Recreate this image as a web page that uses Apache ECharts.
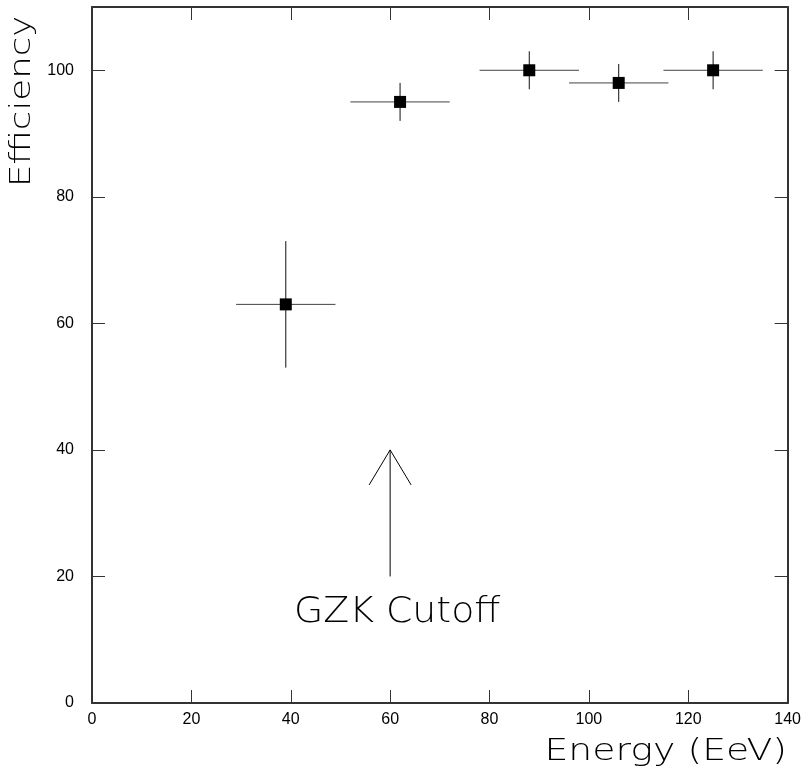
<!DOCTYPE html>
<html>
<head>
<meta charset="utf-8">
<script src="https://cdn.jsdelivr.net/npm/echarts@6/dist/echarts.min.js"></script>
<style>html,body{margin:0;padding:0;background:#fff}#c{width:804px;height:773px}</style>
</head>
<body>
<div id="c"></div>
<script>
// ---- data ----
var energy        = [39, 62, 88, 106, 125];
var energyErr     = [10, 10, 10, 10, 10];
var efficiency    = [63, 95, 100, 98, 100];
var efficiencyErr = [10, 3, 3, 3, 3];
var xTicks = [0, 20, 40, 60, 80, 100, 120, 140];
var yTicks = [0, 20, 40, 60, 80, 100];
var arrowX = 60, arrowFrom = 20, arrowTo = 40;
var arrowLabel = 'GZK Cutoff';
var xTitle = 'Energy (EeV)';
var yTitle = 'Efficiency';

var chart = echarts.init(document.getElementById('c'));
var thinFont = 'DejaVu Sans';
var pts = energy.map(function (e, i) { return [e, efficiency[i], energyErr[i], efficiencyErr[i]]; });

function axisCommon(pos, showLabel, isX) {
  return {
    type: 'value', position: pos,
    min: isX ? xTicks[0] : yTicks[0],
    max: isX ? xTicks[xTicks.length - 1] : 110,
    interval: 20,
    axisLine: { show: true, onZero: false, lineStyle: { color: '#333', width: 2 } },
    axisTick: { show: true, inside: true, length: 13, lineStyle: { color: '#333', width: 1 } },
    splitLine: { show: false },
    axisLabel: {
      show: showLabel, showMaxLabel: isX ? true : false,
      color: '#000', fontSize: 16, fontFamily: 'Liberation Sans, Arial, sans-serif',
      margin: isX ? 9 : 18
    }
  };
}

chart.setOption({
  animation: false,
  backgroundColor: '#fff',
  grid: { left: 92, right: 16, top: 7, bottom: 70, containLabel: false },
  xAxis: [axisCommon('bottom', true, true), axisCommon('top', false, true)],
  yAxis: [axisCommon('left', true, false), axisCommon('right', false, false)],
  graphic: [
    { type: 'text', x: 787, y: 752, scaleX: 1.26,
      style: { text: xTitle, fontFamily: thinFont, fontWeight: 200, fontSize: 30, fill: '#000', align: 'right', verticalAlign: 'middle' } },
    { type: 'text', x: 23, y: 187, rotation: Math.PI / 2, scaleX: 1.27,
      style: { text: yTitle, fontFamily: thinFont, fontWeight: 200, fontSize: 28, fill: '#000', align: 'left', verticalAlign: 'middle' } }
  ],
  series: [
    {
      type: 'custom', xAxisIndex: 0, yAxisIndex: 0,
      data: pts,
      renderItem: function (params, api) {
        var x = api.value(0), y = api.value(1), xe = api.value(2), ye = api.value(3);
        var c = api.coord([x, y]);
        var l = api.coord([x - xe, y]), r = api.coord([x + xe, y]);
        var t = api.coord([x, y + ye]), b = api.coord([x, y - ye]);
        var s = 12;
        return {
          type: 'group',
          children: [
            { type: 'line', shape: { x1: l[0], y1: l[1], x2: r[0], y2: r[1] }, style: { stroke: '#444', lineWidth: 1 } },
            { type: 'line', shape: { x1: t[0], y1: t[1], x2: b[0], y2: b[1] }, style: { stroke: '#111', lineWidth: 1 } },
            { type: 'rect', shape: { x: c[0] - s / 2, y: c[1] - s / 2, width: s, height: s }, style: { fill: '#000' } }
          ]
        };
      }
    },
    {
      type: 'custom', xAxisIndex: 0, yAxisIndex: 0,
      data: [[arrowX, arrowFrom, arrowTo]],
      renderItem: function (params, api) {
        var p0 = api.coord([api.value(0), api.value(1)]);
        var p1 = api.coord([api.value(0), api.value(2)]);
        var hw = 21, hl = 35;
        var ls = { stroke: '#000', lineWidth: 1, fill: null };
        return {
          type: 'group',
          children: [
            { type: 'line', shape: { x1: p0[0], y1: p0[1], x2: p1[0], y2: p1[1] }, style: ls },
            { type: 'polyline', shape: { points: [[p1[0] - hw, p1[1] + hl], [p1[0], p1[1]], [p1[0] + hw, p1[1] + hl]] }, style: ls },
            { type: 'text', x: p0[0] + 7, y: p0[1] + 36, scaleX: 1.08,
              style: { text: arrowLabel, fontFamily: thinFont, fontWeight: 200, fontSize: 35, fill: '#000', align: 'center', verticalAlign: 'middle' } }
          ]
        };
      }
    }
  ]
});
</script>
</body>
</html>
